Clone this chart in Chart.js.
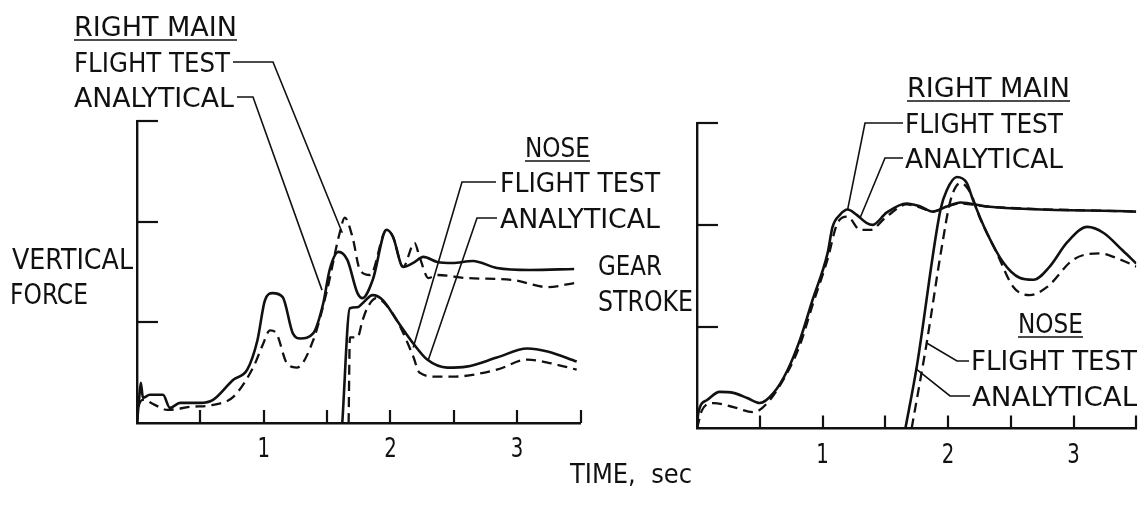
<!DOCTYPE html>
<html>
<head>
<meta charset="utf-8">
<script src="https://cdn.jsdelivr.net/npm/chart.js@4.4.1/dist/chart.umd.min.js"></script>
<style>
html,body{margin:0;padding:0;background:#fff;}
#wrap{position:relative;width:1142px;height:508px;overflow:hidden;background:#fff;}
#wrap canvas{position:absolute;left:0;top:0;}
</style>
</head>
<body>
<div id="wrap">
<canvas id="leftChart" width="1142" height="508"></canvas>
<canvas id="rightChart" width="1142" height="508"></canvas>
</div>
<script>
// ---------------- DATA (time in sec, values in axis-tick units) ----------------
const timeTickLabels = ['1', '2', '3'];
const groupNames = ['RIGHT MAIN', 'NOSE'];
const seriesNames = ['FLIGHT TEST', 'ANALYTICAL'];
const leftAxisTitle = ['VERTICAL', 'FORCE'];
const rightAxisTitle = ['GEAR', 'STROKE'];
const timeTitle = 'TIME,  sec';

// Left panel: vertical force
const leftMainTestT = [0, 0.016, 0.03, 0.047, 0.10, 0.205, 0.26, 0.34, 0.50, 0.60, 0.76, 0.87, 0.95, 1.01, 1.07, 1.15, 1.23, 1.29, 1.39, 1.47, 1.52, 1.59, 1.66, 1.74, 1.78, 1.86, 1.97, 2.02, 2.10, 2.18, 2.26, 2.37, 2.49, 2.65, 2.84, 3.10, 3.45];
const leftMainTestV = [0, 0.23, 0.40, 0.25, 0.28, 0.28, 0.15, 0.20, 0.20, 0.23, 0.43, 0.53, 0.82, 1.22, 1.29, 1.25, 0.89, 0.84, 0.89, 1.19, 1.52, 1.70, 1.62, 1.29, 1.24, 1.42, 1.92, 1.85, 1.55, 1.59, 1.65, 1.60, 1.59, 1.61, 1.54, 1.52, 1.53];
const leftMainCalcT = [0, 0.016, 0.05, 0.14, 0.24, 0.42, 0.60, 0.76, 0.92, 0.99, 1.05, 1.10, 1.18, 1.26, 1.39, 1.50, 1.60, 1.64, 1.70, 1.76, 1.84, 1.97, 2.02, 2.10, 2.19, 2.23, 2.30, 2.37, 2.60, 2.97, 3.24, 3.45];
const leftMainCalcV = [0, 0.18, 0.23, 0.18, 0.13, 0.16, 0.18, 0.26, 0.56, 0.77, 0.92, 0.89, 0.60, 0.55, 0.82, 1.32, 1.89, 2.04, 1.85, 1.52, 1.47, 1.92, 1.85, 1.55, 1.79, 1.65, 1.44, 1.47, 1.44, 1.42, 1.35, 1.39];
const leftNoseTestT = [1.62, 1.68, 1.74, 1.78, 1.86, 1.94, 2.05, 2.18, 2.29, 2.45, 2.60, 2.84, 3.08, 3.24, 3.47];
const leftNoseTestV = [0, 1.14, 1.15, 1.19, 1.27, 1.22, 1.02, 0.79, 0.63, 0.55, 0.56, 0.65, 0.74, 0.71, 0.61];
const leftNoseCalcT = [1.67, 1.68, 1.74, 1.78, 1.82, 1.89, 2.00, 2.08, 2.18, 2.23, 2.37, 2.49, 2.84, 3.08, 3.24, 3.47];
const leftNoseCalcV = [0, 0.85, 0.85, 1.02, 1.15, 1.24, 1.12, 0.95, 0.66, 0.50, 0.46, 0.46, 0.53, 0.63, 0.60, 0.53];

// Right panel: gear stroke
const rightMainTestT = [0, 0.01, 0.08, 0.18, 0.29, 0.40, 0.50, 0.61, 0.72, 0.82, 0.92, 1.04, 1.08, 1.14, 1.20, 1.27, 1.35, 1.40, 1.51, 1.67, 1.78, 1.88, 1.99, 2.10, 2.31, 3.5];
const rightMainTestV = [0, 0.15, 0.28, 0.36, 0.35, 0.30, 0.25, 0.35, 0.57, 0.87, 1.26, 1.72, 1.98, 2.10, 2.15, 2.10, 2.02, 2.00, 2.12, 2.21, 2.18, 2.13, 2.18, 2.22, 2.18, 2.13];
const rightMainCalcT = [0, 0.04, 0.13, 0.29, 0.45, 0.56, 0.72, 0.82, 0.92, 1.04, 1.12, 1.20, 1.30, 1.38, 1.51, 1.67, 1.78, 1.88, 1.99, 2.10, 2.31, 3.5];
const rightMainCalcV = [0, 0.18, 0.25, 0.21, 0.16, 0.25, 0.55, 0.82, 1.21, 1.66, 2.02, 2.08, 1.95, 1.95, 2.08, 2.20, 2.17, 2.13, 2.18, 2.21, 2.18, 2.13];
const rightNoseTestT = [1.66, 1.75, 1.94, 1.99, 2.07, 2.15, 2.20, 2.31, 2.44, 2.57, 2.68, 2.81, 2.95, 3.11, 3.24, 3.39, 3.5];
const rightNoseTestV = [0, 0.60, 2.15, 2.34, 2.47, 2.41, 2.24, 1.92, 1.63, 1.48, 1.46, 1.59, 1.83, 1.98, 1.92, 1.75, 1.62];
const rightNoseCalcT = [1.71, 1.83, 1.95, 2.02, 2.10, 2.18, 2.25, 2.39, 2.52, 2.65, 2.79, 3.00, 3.21, 3.37, 3.5];
const rightNoseCalcV = [0, 0.84, 1.78, 2.24, 2.41, 2.31, 2.08, 1.72, 1.39, 1.31, 1.39, 1.66, 1.72, 1.66, 1.59];

// leader targets in data units [t, v]
const leftLeaderTargets = [[1.62, 1.89], [1.46, 1.32], [2.18, 0.75], [2.30, 0.63]];
const rightLeaderTargets = [[1.20, 2.15], [1.30, 2.07], [1.83, 0.84], [1.74, 0.59]];

// ---------------- helpers ----------------
const INK = '#111';
const FONT_STACK = '"DejaVu Sans Condensed", "Liberation Sans Narrow", "DejaVu Sans", sans-serif';
function pts(ts, vs) { return ts.map((t, i) => ({x: t, y: vs[i]})); }
function series(label, ts, vs, dashed) {
  return {
    label, data: pts(ts, vs),
    borderColor: INK, borderWidth: dashed ? 2.3 : 2.6,
    borderDash: dashed ? [10, 6] : [],
    pointRadius: 0, fill: false, showLine: true,
    cubicInterpolationMode: 'monotone'
  };
}
function fitText(ctx, str, x, top, w, cap) {
  ctx.save();
  ctx.font = '100px ' + FONT_STACK;
  const asc = ctx.measureText('H').actualBoundingBoxAscent || 73;
  const size = cap * 100 / asc;
  ctx.font = size.toFixed(2) + 'px ' + FONT_STACK;
  const m = ctx.measureText(str).width;
  const sx = w ? w / m : 0.8;
  ctx.translate(w ? x : x - m * sx / 2, top + cap);
  ctx.scale(sx, 1);
  ctx.fillStyle = INK;
  ctx.textBaseline = 'alphabetic';
  ctx.fillText(str, 0, 0);
  ctx.restore();
}
function line(ctx, p, w) {
  ctx.save();
  ctx.strokeStyle = INK; ctx.lineWidth = w || 1.5; ctx.setLineDash([]);
  ctx.beginPath(); ctx.moveTo(p[0][0], p[0][1]);
  for (let i = 1; i < p.length; i++) ctx.lineTo(p[i][0], p[i][1]);
  ctx.stroke(); ctx.restore();
}

const panelPlugin = {
  id: 'panel',
  afterDraw(chart, args, opts) {
    const ctx = chart.ctx, xs = chart.scales.x, ys = chart.scales.y;
    const x0 = xs.getPixelForValue(0), y0 = ys.getPixelForValue(0);
    // inner tick marks
    ctx.save(); ctx.strokeStyle = INK; ctx.lineWidth = 2.2;
    xs.ticks.forEach(t => {
      if (t.value <= 0) return;
      const px = Math.round(xs.getPixelForValue(t.value));
      ctx.beginPath(); ctx.moveTo(px, y0); ctx.lineTo(px, y0 - 13); ctx.stroke();
    });
    ys.ticks.forEach(t => {
      if (t.value <= 0) return;
      const py = Math.round(ys.getPixelForValue(t.value));
      ctx.beginPath(); ctx.moveTo(x0, py); ctx.lineTo(x0 + 21, py); ctx.stroke();
    });
    ctx.restore();
    // tick labels
    xs.ticks.forEach(t => {
      const idx = [1, 2, 3].indexOf(t.value);
      if (idx < 0) return;
      fitText(ctx, timeTickLabels[idx], xs.getPixelForValue(t.value), y0 + 14, 0, 20);
    });
    // texts
    (opts.texts || []).forEach(o => {
      fitText(ctx, o.s, o.x, o.top, o.w, o.cap || 20);
      if (o.underline) line(ctx, [[o.x, o.top + 24], [o.x + o.w, o.top + 24]], 1.6);
    });
    // leaders
    (opts.leaders || []).forEach(l => {
      const tgt = [xs.getPixelForValue(l.to[0]), ys.getPixelForValue(l.to[1])];
      line(ctx, [...l.path, tgt], 1.6);
    });
  }
};

function makeChart(id, datasets, box, texts, leaders) {
  return new Chart(document.getElementById(id), {
    type: 'scatter',
    data: {datasets},
    plugins: [panelPlugin],
    options: {
      responsive: false, animation: false, devicePixelRatio: 1,
      layout: {autoPadding: false, padding: {left: box.l, top: box.t, right: 1142 - box.r, bottom: 508 - box.b}},
      plugins: {legend: {display: false}, tooltip: {enabled: false}, panel: {texts, leaders}},
      scales: {
        x: {type: 'linear', min: 0, max: 3.5, ticks: {display: false, stepSize: 0.5},
            grid: {display: true, drawOnChartArea: false, drawTicks: false},
            border: {display: true, color: INK, width: 2.4},
            afterFit(s) { s.height = 0; }},
        y: {type: 'linear', min: 0, max: 3, ticks: {display: false, stepSize: 1},
            grid: {display: true, drawOnChartArea: false, drawTicks: false},
            border: {display: true, color: INK, width: 2.4},
            afterFit(s) { s.width = 0; }}
      }
    }
  });
}

// ---------------- left panel ----------------
makeChart('leftChart', [
  series(groupNames[0] + ' ' + seriesNames[0], leftMainTestT, leftMainTestV, false),
  series(groupNames[0] + ' ' + seriesNames[1], leftMainCalcT, leftMainCalcV, true),
  series(groupNames[1] + ' ' + seriesNames[0], leftNoseTestT, leftNoseTestV, false),
  series(groupNames[1] + ' ' + seriesNames[1], leftNoseCalcT, leftNoseCalcV, true)
], {l: 137, t: 121, r: 580.5, b: 423}, [
  {s: groupNames[0], x: 74, top: 16, w: 163, underline: true},
  {s: seriesNames[0], x: 74, top: 52, w: 156},
  {s: seriesNames[1], x: 74, top: 87, w: 160},
  {s: leftAxisTitle[0], x: 12, top: 248, w: 121, cap: 21},
  {s: leftAxisTitle[1], x: 10, top: 283, w: 78, cap: 21},
  {s: groupNames[1], x: 525, top: 137, w: 65, underline: true},
  {s: seriesNames[0], x: 500, top: 172, w: 160},
  {s: seriesNames[1], x: 500, top: 208, w: 160},
  {s: timeTitle, x: 570, top: 463, w: 122}
], [
  {path: [[233, 62], [273, 62]], to: leftLeaderTargets[0]},
  {path: [[237, 97], [253, 97]], to: leftLeaderTargets[1]},
  {path: [[496, 182], [462, 182]], to: leftLeaderTargets[2]},
  {path: [[497, 218], [477, 218]], to: leftLeaderTargets[3]}
]);

// ---------------- right panel ----------------
makeChart('rightChart', [
  series(groupNames[0] + ' ' + seriesNames[0], rightMainTestT, rightMainTestV, false),
  series(groupNames[0] + ' ' + seriesNames[1], rightMainCalcT, rightMainCalcV, true),
  series(groupNames[1] + ' ' + seriesNames[0], rightNoseTestT, rightNoseTestV, false),
  series(groupNames[1] + ' ' + seriesNames[1], rightNoseCalcT, rightNoseCalcV, true)
], {l: 697, t: 123, r: 1136.3, b: 428.5}, [
  {s: rightAxisTitle[0], x: 598, top: 255, w: 64},
  {s: rightAxisTitle[1], x: 598, top: 290, w: 95, cap: 21},
  {s: groupNames[0], x: 907, top: 77, w: 163, underline: true},
  {s: seriesNames[0], x: 905, top: 113, w: 158},
  {s: seriesNames[1], x: 905, top: 148, w: 158},
  {s: groupNames[1], x: 1018, top: 313, w: 65, underline: true},
  {s: seriesNames[0], x: 971, top: 350, w: 166},
  {s: seriesNames[1], x: 972, top: 386, w: 165}
], [
  {path: [[903, 123], [865, 123]], to: rightLeaderTargets[0]},
  {path: [[903, 158], [885, 158]], to: rightLeaderTargets[1]},
  {path: [[969, 361], [957, 361]], to: rightLeaderTargets[2]},
  {path: [[970, 396], [950, 396]], to: rightLeaderTargets[3]}
]);
</script>
</body>
</html>
